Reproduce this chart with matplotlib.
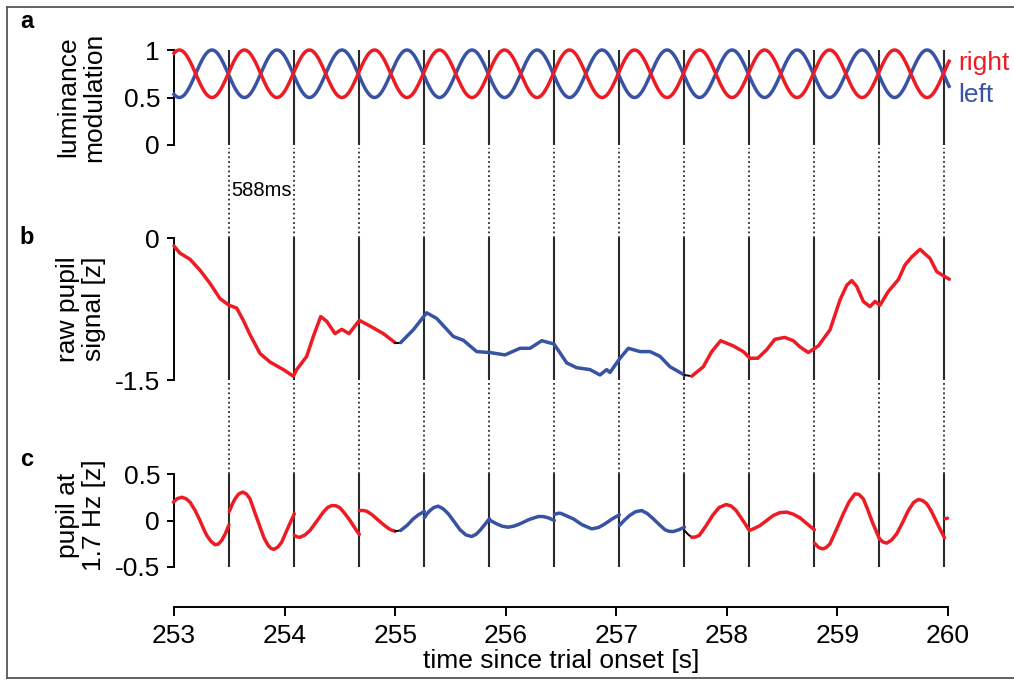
import numpy as np
import matplotlib
matplotlib.use("Agg")
import matplotlib.pyplot as plt
from matplotlib.lines import Line2D

plt.rcParams['font.family'] = ['Liberation Sans', 'DejaVu Sans']

# ---------------- data ----------------
RED = '#ED1C24'
BLUE = '#3953A4'

# stimulus: luminance modulation (1.7 Hz, 0.5 .. 1)
lum_period = 0.588
lum_mean = 0.75
lum_amp = 0.25
lum_phase_t = 253.49         # right eye rising crossing
lum_t_range = (253.0, 260.01)

# interval boundaries (588 ms)
line_times = [253.5, 254.088, 254.676, 255.264, 255.852, 256.44,
              257.028, 257.616, 258.204, 258.792, 259.38, 259.968]

# colour of the dominant eye over time
color_spans = [(252.9, 254.999, RED), (254.999, 255.05, 'black'),
               (255.05, 257.616, BLUE), (257.616, 257.682, 'black'),
               (257.682, 260.1, RED)]

# raw pupil signal [z]
raw_t = [253.0, 253.054, 253.145, 253.235, 253.326, 253.416, 253.497, 253.567,
         253.627, 253.687, 253.778, 253.868, 253.989, 254.079, 254.110, 254.200,
         254.260, 254.327, 254.381, 254.456, 254.517, 254.583, 254.676, 254.773,
         254.893, 254.999, 255.05, 255.164, 255.285, 255.376, 255.526, 255.616,
         255.738, 255.858, 255.994, 256.129, 256.220, 256.326, 256.437, 256.552,
         256.642, 256.762, 256.853, 256.913, 256.943, 257.034, 257.109, 257.215,
         257.305, 257.395, 257.486, 257.616, 257.682, 257.787, 257.863, 257.944,
         258.058, 258.149, 258.209, 258.280, 258.360, 258.434, 258.524, 258.601,
         258.661, 258.736, 258.827, 258.933, 259.023, 259.084, 259.129, 259.174,
         259.234, 259.295, 259.340, 259.385, 259.460, 259.551, 259.611, 259.672,
         259.747, 259.837, 259.898, 259.973, 260.012]
raw_v = [-0.085, -0.16, -0.225, -0.34, -0.48, -0.64, -0.71, -0.74,
         -0.87, -1.02, -1.22, -1.31, -1.39, -1.46, -1.39, -1.25,
         -1.04, -0.83, -0.88, -1.01, -0.965, -1.01, -0.87, -0.93,
         -1.01, -1.105, -1.105, -0.97, -0.79, -0.85, -1.04, -1.08,
         -1.20, -1.21, -1.235, -1.165, -1.165, -1.085, -1.12, -1.32,
         -1.37, -1.39, -1.447, -1.39, -1.42, -1.27, -1.165, -1.20,
         -1.20, -1.25, -1.36, -1.447, -1.46, -1.36, -1.20, -1.085,
         -1.14, -1.20, -1.27, -1.27, -1.18, -1.07, -1.05, -1.085,
         -1.15, -1.21, -1.14, -0.97, -0.655, -0.50, -0.45, -0.51,
         -0.67, -0.725, -0.67, -0.71, -0.565, -0.44, -0.285, -0.20,
         -0.12, -0.215, -0.355, -0.41, -0.435]

# pupil at 1.7 Hz [z], one segment per 588 ms interval
filt_t = [
    [252.994, 253.03, 253.070, 253.108, 253.145, 253.19, 253.235, 253.266,
     253.296, 253.335, 253.371, 253.40, 253.431, 253.465, 253.497],
    [253.5, 253.525, 253.552, 253.585, 253.621, 253.655, 253.687, 253.73,
     253.778, 253.815, 253.853, 253.878, 253.904, 253.94, 253.974, 254.03, 254.088],
    [254.088, 254.115, 254.140, 254.185, 254.230, 254.29, 254.350, 254.39,
     254.426, 254.465, 254.501, 254.545, 254.592, 254.635, 254.676],
    [254.676, 254.71, 254.743, 254.79, 254.833, 254.88, 254.924, 254.96,
     254.999, 255.05, 255.11, 255.164, 255.215, 255.264],
    [255.264, 255.29, 255.315, 255.35, 255.390, 255.435, 255.481, 255.535,
     255.587, 255.64, 255.692, 255.73, 255.767, 255.81, 255.852],
    [255.852, 255.885, 255.918, 255.97, 256.023, 256.075, 256.129, 256.21,
     256.295, 256.34, 256.385, 256.44],
    [256.44, 256.476, 256.50, 256.55, 256.611, 256.69, 256.778, 256.84,
     256.898, 256.96, 257.028],
    [257.028, 257.075, 257.121, 257.175, 257.230, 257.28, 257.335, 257.39,
     257.441, 257.48, 257.516, 257.565, 257.616],
    [257.616, 257.65, 257.682, 257.715, 257.751, 257.81, 257.871, 257.93,
     257.994, 258.04, 258.084, 258.145, 258.204],
    [258.204, 258.25, 258.300, 258.36, 258.420, 258.48, 258.541, 258.60,
     258.661, 258.73, 258.792],
    [258.792, 258.83, 258.867, 258.90, 258.933, 258.99, 259.053, 259.105,
     259.159, 259.195, 259.234, 259.27, 259.310, 259.345, 259.38],
    [259.38, 259.41, 259.446, 259.49, 259.536, 259.59, 259.641, 259.69,
     259.732, 259.77, 259.808, 259.845, 259.883, 259.925, 259.968],
    [259.975, 259.995],
]
filt_v = [
    [0.197, 0.235, 0.25, 0.235, 0.197, 0.11, 0.0, -0.085,
     -0.16, -0.225, -0.26, -0.255, -0.215, -0.14, -0.047],
    [0.097, 0.17, 0.233, 0.285, 0.305, 0.285, 0.233, 0.09,
     -0.07, -0.19, -0.27, -0.30, -0.31, -0.285, -0.233, -0.08, 0.072],
    [-0.16, -0.177, -0.18, -0.155, -0.107, -0.01, 0.09, 0.14,
     0.16, 0.158, 0.136, 0.075, 0.0, -0.08, -0.15],
    [0.107, 0.108, 0.10, 0.063, 0.018, -0.03, -0.072, -0.10,
     -0.115, -0.107, -0.05, 0.018, 0.065, 0.097],
    [0.029, 0.075, 0.107, 0.14, 0.154, 0.125, 0.072, -0.015,
     -0.10, -0.155, -0.172, -0.15, -0.107, -0.045, 0.018],
    [0.007, -0.015, -0.036, -0.062, -0.072, -0.06, -0.036, 0.01,
     0.043, 0.042, 0.029, 0.0],
    [0.064, 0.079, 0.076, 0.05, 0.018, -0.045, -0.09, -0.075,
     -0.036, 0.015, 0.061],
    [-0.054, 0.005, 0.054, 0.095, 0.107, 0.075, 0.018, -0.045,
     -0.10, -0.117, -0.118, -0.10, -0.072],
    [-0.107, -0.15, -0.18, -0.178, -0.16, -0.06, 0.054, 0.14,
     0.172, 0.155, 0.107, 0.0, -0.107],
    [-0.107, -0.085, -0.054, 0.0, 0.054, 0.085, 0.09, 0.068,
     0.029, -0.04, -0.10],
    [-0.243, -0.29, -0.305, -0.29, -0.25, -0.10, 0.072, 0.20,
     0.287, 0.28, 0.233, 0.13, 0.0, -0.10, -0.197],
    [-0.197, -0.23, -0.243, -0.21, -0.143, -0.02, 0.107, 0.195,
     0.226, 0.215, 0.18, 0.11, 0.018, -0.085, -0.186],
    [0.018, 0.025],
]

x_ticks = [253, 254, 255, 256, 257, 258, 259, 260]

# ---------------- figure ----------------
W_PX, H_PX = 1014, 684
fig = plt.figure(figsize=(W_PX / 100, H_PX / 100), dpi=100)

L = 174 / W_PX
AW = (948 - 174) / W_PX


def fpos(top, bottom):
    return [L, 1 - bottom / H_PX, AW, (bottom - top) / H_PX]


ax_a = fig.add_axes(fpos(50, 145))
ax_b = fig.add_axes(fpos(238, 380))
ax_c = fig.add_axes(fpos(474, 567))
ax_x = fig.add_axes(fpos(605.5, 606.5))

LW = 2.5
VCOL = '#2a2a2a'


def colored_plot(ax, t, v):
    t = np.asarray(t)
    v = np.asarray(v)
    for a, b, col in color_spans:
        m = (t >= a - 1e-6) & (t <= b + 1e-6)
        if m.sum() >= 2:
            ax.plot(t[m], v[m], color=col, lw=LW if col != 'black' else 1.4,
                    solid_capstyle='round', solid_joinstyle='round',
                    zorder=3, clip_on=False)


for ax in (ax_a, ax_b, ax_c):
    ax.set_xlim(253, 260)
    for s in ('top', 'right', 'bottom'):
        ax.spines[s].set_visible(False)
    ax.spines['left'].set_linewidth(1.4)
    ax.set_xticks([])
    ax.tick_params(axis='y', direction='out', length=5, width=1.4,
                   labelsize=19, pad=5)
    ax.patch.set_alpha(0)
    for tl in line_times:
        ax.axvline(tl, color=VCOL, lw=1.5, zorder=1)

# panel a
t_lum = np.linspace(lum_t_range[0], lum_t_range[1], 3000)
phase = 2 * np.pi * (t_lum - lum_phase_t) / lum_period
ax_a.plot(t_lum, lum_mean - lum_amp * np.sin(phase), color=BLUE, lw=LW, zorder=3, clip_on=False)
ax_a.plot(t_lum, lum_mean + lum_amp * np.sin(phase), color=RED, lw=LW, zorder=4, clip_on=False)
ax_a.set_ylim(0, 1)
ax_a.set_yticks([0, 0.5, 1])
ax_a.set_yticklabels(['0', '0.5', '1'])
ax_a.text(260.09, 0.86, 'right', color=RED, fontsize=19, ha='left', va='center')
ax_a.text(260.09, 0.53, 'left', color=BLUE, fontsize=19, ha='left', va='center')

# panel b
colored_plot(ax_b, raw_t, raw_v)
ax_b.set_ylim(-1.5, 0)
ax_b.set_yticks([-1.5, 0])
ax_b.set_yticklabels(['-1.5', '0'])

# panel c
for st, sv in zip(filt_t, filt_v):
    colored_plot(ax_c, st, sv)
ax_c.set_ylim(-0.5, 0.5)
ax_c.set_yticks([-0.5, 0, 0.5])
ax_c.set_yticklabels(['-0.5', '0', '0.5'])

# x axis
ax_x.set_xlim(253, 260)
for s in ('top', 'right', 'left'):
    ax_x.spines[s].set_visible(False)
ax_x.spines['bottom'].set_linewidth(1.4)
ax_x.set_yticks([])
ax_x.set_xticks(x_ticks)
ax_x.set_xticklabels([str(v) for v in x_ticks])
ax_x.tick_params(axis='x', direction='out', length=6.5, width=1.4,
                 labelsize=19, pad=6)
ax_x.set_xlabel('time since trial onset [s]', fontsize=19, labelpad=1)
ax_x.patch.set_alpha(0)

# dotted connectors between panels
ax_o = fig.add_axes([L, 0, AW, 1])
ax_o.set_xlim(253, 260)
ax_o.set_ylim(0, 1)
ax_o.axis('off')
pa, pb, pc = ax_a.get_position(), ax_b.get_position(), ax_c.get_position()
gap = 3 / H_PX
ax_o.vlines(line_times, pb.y1, pa.y0 - gap, colors=VCOL, lw=1.3,
            linestyles=(0, (1.0, 1.6)))
ax_o.vlines(line_times, pc.y1, pb.y0 - gap, colors=VCOL, lw=1.3,
            linestyles=(0, (1.0, 1.6)))
ax_o.text((line_times[0] + line_times[1]) / 2, 1 - 191 / H_PX, '588ms',
          fontsize=14.5, ha='center', va='center')

# y labels and panel letters
fig.text(81 / W_PX, 1 - 97 / H_PX, 'luminance\nmodulation', rotation=90,
         ha='center', va='center', fontsize=19, linespacing=1.1)
fig.text(81 / W_PX, 1 - 309 / H_PX, 'raw pupil\nsignal [z]', rotation=90,
         ha='center', va='center', fontsize=19, linespacing=1.1)
fig.text(81 / W_PX, 1 - 515 / H_PX, 'pupil at\n1.7 Hz [z]', rotation=90,
         ha='center', va='center', fontsize=19, linespacing=1.1)
for lab, yc in (('a', 21), ('b', 238), ('c', 460)):
    fig.text(27 / W_PX, 1 - yc / H_PX, lab, fontsize=17, fontweight='bold',
             ha='center', va='center')

# frame
fcol = '#555555'
x0, x1 = 7 / W_PX, 1.0
y0, y1 = 1 - 678 / H_PX, 1 - 7 / H_PX
fig.add_artist(Line2D([x0, x1], [y1, y1], color=fcol, lw=1.3, transform=fig.transFigure))
fig.add_artist(Line2D([x0, x1], [y0, y0], color=fcol, lw=1.3, transform=fig.transFigure))
fig.add_artist(Line2D([x0, x0], [y0, y1], color=fcol, lw=1.3, transform=fig.transFigure))

fig.savefig('out.png', dpi=100)
